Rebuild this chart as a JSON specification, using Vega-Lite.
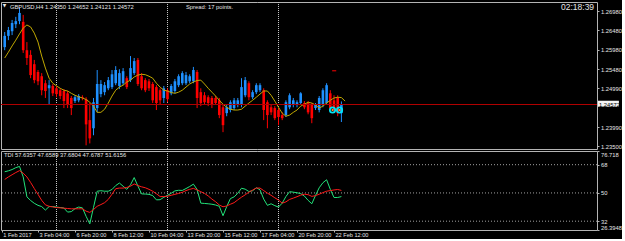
{
  "$schema": "https://vega.github.io/schema/vega-lite/v6.json",
  "background": "#000000",
  "padding": {"left": 0, "top": 1, "right": 0, "bottom": 0},
  "spacing": 2,
  "bounds": "flush",
  "config": {
    "view": {"stroke": "#B4B4B4", "strokeWidth": 1},
    "axis": {"grid": false, "domain": false, "labelFont": "Liberation Sans", "labelColor": "#E6E6E6", "tickColor": "#B4B4B4", "labelOverlap": false, "labelSeparation": 0},
    "axisY": {"labelOverlap": false},
    "axisQuantitative": {"labelOverlap": false}
  },
  "datasets": {
    "weeks": [{"i": 14, "t": "6 Feb 00:00"}, {"i": 44, "t": "13 Feb 00:00"}, {"i": 74, "t": "20 Feb 00:00"}],
    "levels": [{"lvl": 68}, {"lvl": 50}, {"lvl": 32}],
    "bars": [
      {"i":0,"o":1.2605,"h":1.2644,"l":1.2597,"c":1.2634},
      {"i":1,"o":1.2634,"h":1.2657,"l":1.2623,"c":1.2649},
      {"i":2,"o":1.2646,"h":1.2675,"l":1.2636,"c":1.2667},
      {"i":3,"o":1.2664,"h":1.2683,"l":1.2654,"c":1.2672},
      {"i":4,"o":1.2672,"h":1.2706,"l":1.2664,"c":1.2693},
      {"i":5,"o":1.2670,"h":1.2688,"l":1.2590,"c":1.2597},
      {"i":6,"o":1.2597,"h":1.2618,"l":1.2559,"c":1.2577},
      {"i":7,"o":1.2585,"h":1.2597,"l":1.2525,"c":1.2533},
      {"i":8,"o":1.2561,"h":1.2572,"l":1.2512,"c":1.2520},
      {"i":9,"o":1.2541,"h":1.2546,"l":1.2507,"c":1.2517},
      {"i":10,"o":1.2530,"h":1.2538,"l":1.2481,"c":1.2494},
      {"i":11,"o":1.2512,"h":1.2520,"l":1.2474,"c":1.2492},
      {"i":12,"o":1.2499,"h":1.2520,"l":1.2458,"c":1.2507},
      {"i":13,"o":1.2505,"h":1.2510,"l":1.2479,"c":1.2486},
      {"i":14,"o":1.2499,"h":1.2505,"l":1.2476,"c":1.2484},
      {"i":15,"o":1.2494,"h":1.2499,"l":1.2471,"c":1.2479},
      {"i":16,"o":1.2492,"h":1.2497,"l":1.2448,"c":1.2466},
      {"i":17,"o":1.2486,"h":1.2492,"l":1.2448,"c":1.2456},
      {"i":18,"o":1.2474,"h":1.2479,"l":1.2430,"c":1.2448},
      {"i":19,"o":1.2466,"h":1.2481,"l":1.2461,"c":1.2476},
      {"i":20,"o":1.2468,"h":1.2484,"l":1.2463,"c":1.2479},
      {"i":21,"o":1.2476,"h":1.2481,"l":1.2468,"c":1.2474},
      {"i":22,"o":1.2471,"h":1.2476,"l":1.2352,"c":1.2406},
      {"i":23,"o":1.2417,"h":1.2461,"l":1.2357,"c":1.2370},
      {"i":24,"o":1.2396,"h":1.2474,"l":1.2378,"c":1.2463},
      {"i":25,"o":1.2448,"h":1.2546,"l":1.2437,"c":1.2510},
      {"i":26,"o":1.2484,"h":1.2520,"l":1.2476,"c":1.2510},
      {"i":27,"o":1.2489,"h":1.2515,"l":1.2481,"c":1.2507},
      {"i":28,"o":1.2499,"h":1.2528,"l":1.2494,"c":1.2520},
      {"i":29,"o":1.2502,"h":1.2546,"l":1.2497,"c":1.2535},
      {"i":30,"o":1.2512,"h":1.2556,"l":1.2507,"c":1.2546},
      {"i":31,"o":1.2505,"h":1.2548,"l":1.2497,"c":1.2538},
      {"i":32,"o":1.2512,"h":1.2551,"l":1.2507,"c":1.2543},
      {"i":33,"o":1.2525,"h":1.2530,"l":1.2497,"c":1.2502},
      {"i":34,"o":1.2520,"h":1.2582,"l":1.2515,"c":1.2551},
      {"i":35,"o":1.2538,"h":1.2577,"l":1.2533,"c":1.2569},
      {"i":36,"o":1.2572,"h":1.2577,"l":1.2505,"c":1.2510},
      {"i":37,"o":1.2530,"h":1.2538,"l":1.2494,"c":1.2499},
      {"i":38,"o":1.2520,"h":1.2525,"l":1.2489,"c":1.2494},
      {"i":39,"o":1.2517,"h":1.2523,"l":1.2492,"c":1.2499},
      {"i":40,"o":1.2510,"h":1.2515,"l":1.2461,"c":1.2468},
      {"i":41,"o":1.2502,"h":1.2507,"l":1.2443,"c":1.2461},
      {"i":42,"o":1.2494,"h":1.2499,"l":1.2458,"c":1.2468},
      {"i":43,"o":1.2474,"h":1.2505,"l":1.2461,"c":1.2499},
      {"i":44,"o":1.2494,"h":1.2499,"l":1.2463,"c":1.2471},
      {"i":45,"o":1.2486,"h":1.2510,"l":1.2481,"c":1.2505},
      {"i":46,"o":1.2492,"h":1.2523,"l":1.2486,"c":1.2517},
      {"i":47,"o":1.2507,"h":1.2535,"l":1.2502,"c":1.2530},
      {"i":48,"o":1.2512,"h":1.2543,"l":1.2507,"c":1.2538},
      {"i":49,"o":1.2512,"h":1.2541,"l":1.2507,"c":1.2533},
      {"i":50,"o":1.2517,"h":1.2535,"l":1.2512,"c":1.2530},
      {"i":51,"o":1.2517,"h":1.2554,"l":1.2512,"c":1.2546},
      {"i":52,"o":1.2541,"h":1.2546,"l":1.2448,"c":1.2474},
      {"i":53,"o":1.2489,"h":1.2499,"l":1.2453,"c":1.2461},
      {"i":54,"o":1.2481,"h":1.2489,"l":1.2458,"c":1.2463},
      {"i":55,"o":1.2476,"h":1.2481,"l":1.2453,"c":1.2461},
      {"i":56,"o":1.2474,"h":1.2479,"l":1.2448,"c":1.2456},
      {"i":57,"o":1.2474,"h":1.2479,"l":1.2456,"c":1.2461},
      {"i":58,"o":1.2468,"h":1.2474,"l":1.2422,"c":1.2430},
      {"i":59,"o":1.2450,"h":1.2458,"l":1.2386,"c":1.2404},
      {"i":60,"o":1.2435,"h":1.2456,"l":1.2427,"c":1.2450},
      {"i":61,"o":1.2443,"h":1.2468,"l":1.2437,"c":1.2463},
      {"i":62,"o":1.2448,"h":1.2474,"l":1.2443,"c":1.2468},
      {"i":63,"o":1.2456,"h":1.2474,"l":1.2450,"c":1.2468},
      {"i":64,"o":1.2456,"h":1.2525,"l":1.2450,"c":1.2502},
      {"i":65,"o":1.2481,"h":1.2528,"l":1.2476,"c":1.2520},
      {"i":66,"o":1.2512,"h":1.2517,"l":1.2468,"c":1.2476},
      {"i":67,"o":1.2476,"h":1.2494,"l":1.2471,"c":1.2489},
      {"i":68,"o":1.2489,"h":1.2512,"l":1.2484,"c":1.2507},
      {"i":69,"o":1.2494,"h":1.2512,"l":1.2489,"c":1.2507},
      {"i":70,"o":1.2494,"h":1.2499,"l":1.2417,"c":1.2443},
      {"i":71,"o":1.2463,"h":1.2468,"l":1.2396,"c":1.2430},
      {"i":72,"o":1.2450,"h":1.2456,"l":1.2430,"c":1.2437},
      {"i":73,"o":1.2448,"h":1.2453,"l":1.2417,"c":1.2422},
      {"i":74,"o":1.2443,"h":1.2448,"l":1.2404,"c":1.2425},
      {"i":75,"o":1.2430,"h":1.2437,"l":1.2417,"c":1.2422},
      {"i":76,"o":1.2430,"h":1.2468,"l":1.2425,"c":1.2463},
      {"i":77,"o":1.2450,"h":1.2486,"l":1.2445,"c":1.2481},
      {"i":78,"o":1.2456,"h":1.2474,"l":1.2450,"c":1.2468},
      {"i":79,"o":1.2456,"h":1.2468,"l":1.2450,"c":1.2463},
      {"i":80,"o":1.2461,"h":1.2489,"l":1.2456,"c":1.2486},
      {"i":81,"o":1.2461,"h":1.2466,"l":1.2445,"c":1.2450},
      {"i":82,"o":1.2461,"h":1.2466,"l":1.2432,"c":1.2437},
      {"i":83,"o":1.2456,"h":1.2461,"l":1.2409,"c":1.2422},
      {"i":84,"o":1.2448,"h":1.2461,"l":1.2443,"c":1.2456},
      {"i":85,"o":1.2443,"h":1.2479,"l":1.2437,"c":1.2474},
      {"i":86,"o":1.2456,"h":1.2499,"l":1.2450,"c":1.2494},
      {"i":87,"o":1.2461,"h":1.2512,"l":1.2456,"c":1.2507},
      {"i":88,"o":1.2486,"h":1.2494,"l":1.2443,"c":1.2448},
      {"i":89,"o":1.2468,"h":1.2481,"l":1.2435,"c":1.2443},
      {"i":90,"o":1.2476,"h":1.2481,"l":1.2427,"c":1.2435},
      {"i":91,"o":1.2435,"h":1.24652,"l":1.24121,"c":1.24572}
    ],
    "ma": [
      {"i":0,"v":1.2577},{"i":1,"v":1.2592},{"i":2,"v":1.2608},{"i":3,"v":1.2623},{"i":4,"v":1.2639},
      {"i":5,"v":1.2654},{"i":6,"v":1.2662},{"i":7,"v":1.2657},{"i":8,"v":1.2641},{"i":9,"v":1.2618},
      {"i":10,"v":1.2582},{"i":11,"v":1.2551},{"i":12,"v":1.2525},{"i":13,"v":1.2512},{"i":14,"v":1.2505},
      {"i":15,"v":1.2499},{"i":16,"v":1.2494},{"i":17,"v":1.2492},{"i":18,"v":1.2486},{"i":19,"v":1.2481},
      {"i":20,"v":1.2477},{"i":21,"v":1.2474},{"i":22,"v":1.2470},{"i":23,"v":1.2463},{"i":24,"v":1.2453},
      {"i":25,"v":1.2437},{"i":26,"v":1.2437},{"i":27,"v":1.2445},{"i":28,"v":1.2461},{"i":29,"v":1.2479},
      {"i":30,"v":1.2494},{"i":31,"v":1.2502},{"i":32,"v":1.2507},{"i":33,"v":1.2515},{"i":34,"v":1.2520},
      {"i":35,"v":1.2528},{"i":36,"v":1.2533},{"i":37,"v":1.2535},{"i":38,"v":1.2534},{"i":39,"v":1.2530},
      {"i":40,"v":1.2525},{"i":41,"v":1.2512},{"i":42,"v":1.2502},{"i":43,"v":1.2494},{"i":44,"v":1.2492},
      {"i":45,"v":1.2488},{"i":46,"v":1.2486},{"i":47,"v":1.2489},{"i":48,"v":1.2494},{"i":49,"v":1.2502},
      {"i":50,"v":1.2510},{"i":51,"v":1.2515},{"i":52,"v":1.2519},{"i":53,"v":1.2520},{"i":54,"v":1.2510},
      {"i":55,"v":1.2499},{"i":56,"v":1.2489},{"i":57,"v":1.2479},{"i":58,"v":1.2468},{"i":59,"v":1.2458},
      {"i":60,"v":1.2450},{"i":61,"v":1.2445},{"i":62,"v":1.2443},{"i":63,"v":1.2443},{"i":64,"v":1.2445},
      {"i":65,"v":1.2453},{"i":66,"v":1.2461},{"i":67,"v":1.2468},{"i":68,"v":1.2476},{"i":69,"v":1.2484},
      {"i":70,"v":1.2492},{"i":71,"v":1.2492},{"i":72,"v":1.2481},{"i":73,"v":1.2466},{"i":74,"v":1.2450},
      {"i":75,"v":1.2435},{"i":76,"v":1.2427},{"i":77,"v":1.2430},{"i":78,"v":1.2437},{"i":79,"v":1.2443},
      {"i":80,"v":1.2453},{"i":81,"v":1.2458},{"i":82,"v":1.2463},{"i":83,"v":1.2461},{"i":84,"v":1.2456},
      {"i":85,"v":1.2448},{"i":86,"v":1.2453},{"i":87,"v":1.2461},{"i":88,"v":1.2468},{"i":89,"v":1.2474},
      {"i":90,"v":1.2476},{"i":91,"v":1.2475},{"i":92,"v":1.2466}
    ],
    "tdi": [
      {"i":0,"g":63.5,"r":58.6},{"i":1,"g":64.1,"r":60.2},{"i":2,"g":64.9,"r":61.6},{"i":3,"g":66.1,"r":63.0},{"i":4,"g":66.9,"r":64.2},
      {"i":5,"g":60.2,"r":62.6},{"i":6,"g":47.5,"r":60.2},{"i":7,"g":45.2,"r":56.7},{"i":8,"g":43.4,"r":52.8},{"i":9,"g":42.1,"r":49.1},
      {"i":10,"g":41.3,"r":45.3},{"i":11,"g":39.1,"r":42.4},{"i":12,"g":41.3,"r":41.5},{"i":13,"g":41.3,"r":41.1},{"i":14,"g":41.0,"r":40.7},
      {"i":15,"g":40.7,"r":40.5},{"i":16,"g":40.4,"r":40.3},{"i":17,"g":37.8,"r":40.1},{"i":18,"g":38.1,"r":39.9},{"i":19,"g":40.0,"r":39.9},
      {"i":20,"g":41.0,"r":39.9},{"i":21,"g":40.5,"r":39.9},{"i":22,"g":35.1,"r":38.4},{"i":23,"g":30.3,"r":37.6},{"i":24,"g":40.8,"r":39.4},
      {"i":25,"g":51.1,"r":41.5},{"i":26,"g":51.4,"r":42.6},{"i":27,"g":51.1,"r":43.8},{"i":28,"g":51.1,"r":45.9},{"i":29,"g":52.2,"r":49.2},
      {"i":30,"g":54.7,"r":52.7},{"i":31,"g":56.3,"r":53.1},{"i":32,"g":54.3,"r":53.1},{"i":33,"g":52.3,"r":53.5},{"i":34,"g":55.2,"r":54.3},
      {"i":35,"g":59.8,"r":55.7},{"i":36,"g":54.4,"r":54.7},{"i":37,"g":49.4,"r":53.9},{"i":38,"g":49.3,"r":53.3},{"i":39,"g":49.1,"r":52.3},
      {"i":40,"g":48.3,"r":51.1},{"i":41,"g":45.6,"r":49.5},{"i":42,"g":45.7,"r":47.7},{"i":43,"g":47.2,"r":47.7},{"i":44,"g":48.5,"r":47.9},
      {"i":45,"g":49.8,"r":48.5},{"i":46,"g":51.3,"r":49.1},{"i":47,"g":51.7,"r":49.7},{"i":48,"g":51.6,"r":50.4},{"i":49,"g":52.8,"r":51.5},
      {"i":50,"g":54.1,"r":52.3},{"i":51,"g":55.6,"r":52.9},{"i":52,"g":52.2,"r":51.9},{"i":53,"g":43.5,"r":50.8},{"i":54,"g":43.3,"r":49.7},
      {"i":55,"g":43.1,"r":48.1},{"i":56,"g":42.8,"r":46.1},{"i":57,"g":42.3,"r":44.4},{"i":58,"g":41.5,"r":42.3},{"i":59,"g":35.5,"r":41.2},
      {"i":60,"g":41.3,"r":41.7},{"i":61,"g":46.4,"r":42.8},{"i":62,"g":47.5,"r":43.8},{"i":63,"g":49.8,"r":45.6},{"i":64,"g":53.0,"r":47.3},
      {"i":65,"g":52.4,"r":48.8},{"i":66,"g":50.9,"r":50.5},{"i":67,"g":51.4,"r":51.8},{"i":68,"g":53.3,"r":53.1},{"i":69,"g":52.0,"r":53.1},
      {"i":70,"g":46.1,"r":51.5},{"i":71,"g":42.1,"r":49.9},{"i":72,"g":43.1,"r":48.5},{"i":73,"g":41.9,"r":46.9},{"i":74,"g":41.0,"r":45.5},
      {"i":75,"g":43.5,"r":43.5},{"i":76,"g":47.7,"r":44.3},{"i":77,"g":50.8,"r":45.9},{"i":78,"g":50.5,"r":46.7},{"i":79,"g":50.1,"r":47.6},
      {"i":80,"g":49.6,"r":48.6},{"i":81,"g":48.0,"r":49.2},{"i":82,"g":45.3,"r":48.9},{"i":83,"g":43.1,"r":47.8},{"i":84,"g":48.4,"r":48.3},
      {"i":85,"g":53.3,"r":49.2},{"i":86,"g":56.5,"r":50.2},{"i":87,"g":58.4,"r":51.1},{"i":88,"g":52.3,"r":51.5},{"i":89,"g":47.1,"r":51.9},
      {"i":90,"g":47.1,"r":52.2},{"i":91,"g":47.6787,"r":51.6156}
    ],
    "trades": [{"i": 88.6, "p": 1.2443}, {"i": 90.5, "p": 1.2443}],
    "stops": [{"i": 88.5, "i2": 89.6, "p": 1.2544}]
  },
  "vconcat": [
    {
      "width": 596,
      "height": 147,
      "encoding": {
        "y": {"type": "quantitative", "scale": {"domain": [1.23426, 1.27212], "nice": false, "zero": false, "padding": 0},
              "axis": {"orient": "right", "title": null, "values": [1.2698, 1.2648, 1.2598, 1.2548, 1.2499, 1.2399, 1.235], "format": ".5f", "labelFontSize": 5.8, "tickSize": 2, "labelPadding": 1.5, "labelOverlap": false, "labelSeparation": 0}}
      },
      "layer": [
        {
          "data": {"name": "weeks"},
          "mark": {"type": "rule", "color": "#C8C8C8", "strokeDash": [1, 1], "strokeWidth": 1},
          "encoding": {
            "x": {"field": "i", "type": "quantitative", "scale": {"domain": [-1, 160.08], "nice": false, "zero": false, "padding": 0}, "axis": null},
            "y": null
          }
        },
        {
          "data": {"name": "bars"},
          "mark": {"type": "rule", "strokeWidth": 1},
          "encoding": {
            "x": {"field": "i", "type": "quantitative", "axis": null},
            "y": {"field": "l"},
            "y2": {"field": "h"},
            "color": {"condition": {"test": "datum.c >= datum.o", "value": "#1E90FF"}, "value": "#FF0000"}
          }
        },
        {
          "data": {"name": "bars"},
          "mark": {"type": "bar", "width": 2.6},
          "encoding": {
            "x": {"field": "i", "type": "quantitative", "axis": null},
            "y": {"field": "o"},
            "y2": {"field": "c"},
            "color": {"condition": {"test": "datum.c >= datum.o", "value": "#1E90FF"}, "value": "#FF0000"}
          }
        },
        {
          "data": {"name": "ma"},
          "mark": {"type": "line", "color": "#C0A800", "strokeWidth": 1},
          "encoding": {
            "x": {"field": "i", "type": "quantitative", "axis": null},
            "y": {"field": "v"}
          }
        },
        {
          "data": {"values": [{"p": 1.24572}]},
          "mark": {"type": "rule", "color": "#B00000", "strokeWidth": 1},
          "encoding": {"y": {"field": "p"}}
        },
        {
          "data": {"name": "trades"},
          "mark": {"type": "point", "filled": false, "stroke": "#00E5F5", "strokeWidth": 1.8, "size": 28, "opacity": 1},
          "encoding": {
            "x": {"field": "i", "type": "quantitative", "axis": null},
            "y": {"field": "p"}
          }
        },
        {
          "data": {"name": "trades"},
          "mark": {"type": "point", "filled": true, "color": "#F0A040", "size": 5, "opacity": 1},
          "encoding": {
            "x": {"field": "i", "type": "quantitative", "axis": null},
            "y": {"field": "p"}
          }
        },
        {
          "data": {"name": "stops"},
          "mark": {"type": "rule", "color": "#FF0000", "strokeWidth": 1},
          "encoding": {
            "x": {"field": "i", "type": "quantitative", "axis": null},
            "x2": {"field": "i2"},
            "y": {"field": "p"}
          }
        },
        {
          "data": {"values": [{"i": -0.05, "p": 1.27108, "s": "▼"}]},
          "mark": {"type": "text", "align": "center", "baseline": "middle", "font": "DejaVu Sans", "fontSize": 4.5, "color": "#E6E6E6"},
          "encoding": {"x": {"field": "i", "type": "quantitative", "axis": null}, "y": {"field": "p"}, "text": {"field": "s"}}
        },
        {
          "data": {"values": [{"i": 1.43, "p": 1.27096, "s": "GBPUSD,H4  1.24350 1.24652 1.24121 1.24572"},
                              {"i": 49.0, "p": 1.27078, "s": "Spread: 17 points."}]},
          "mark": {"type": "text", "align": "left", "baseline": "middle", "font": "Liberation Sans", "fontSize": 5.8, "color": "#E6E6E6"},
          "encoding": {"x": {"field": "i", "type": "quantitative", "axis": null}, "y": {"field": "p"}, "text": {"field": "s"}}
        },
        {
          "data": {"values": [{"i": 150.35, "p": 1.27091, "s": "02:18:39"}]},
          "mark": {"type": "text", "align": "left", "baseline": "middle", "font": "Liberation Sans", "fontSize": 8.5, "color": "#E6E6E6"},
          "encoding": {"x": {"field": "i", "type": "quantitative", "axis": null}, "y": {"field": "p"}, "text": {"field": "s"}}
        },
        {
          "data": {"values": [{"i": 160.35, "i2": 166.0, "p": 1.24669, "p2": 1.24514}]},
          "mark": {"type": "rect", "color": "#F2F2F2", "clip": false},
          "encoding": {
            "x": {"field": "i", "type": "quantitative", "axis": null}, "x2": {"field": "i2"},
            "y": {"field": "p"}, "y2": {"field": "p2"}
          }
        },
        {
          "data": {"values": [{"i": 160.6, "p": 1.24572, "s": "1.24572"}]},
          "mark": {"type": "text", "align": "left", "baseline": "middle", "font": "Liberation Sans", "fontSize": 5.8, "color": "#000000", "clip": false},
          "encoding": {"x": {"field": "i", "type": "quantitative", "axis": null}, "y": {"field": "p"}, "text": {"field": "s"}}
        }
      ]
    },
    {
      "width": 596,
      "height": 79,
      "encoding": {
        "x": {"type": "quantitative", "scale": {"domain": [-1, 160.08], "nice": false, "zero": false, "padding": 0},
              "axis": {"title": null, "values": [-0.8, 9, 19, 29, 39, 49, 59, 69, 79, 89],
                       "labelExpr": "datum.value < 0 ? '1 Feb 2017' : ['3 Feb 04:00','6 Feb 20:00','8 Feb 12:00','10 Feb 04:00','13 Feb 20:00','15 Feb 12:00','17 Feb 04:00','20 Feb 20:00','22 Feb 12:00'][round((datum.value - 9) / 10)]",
                       "labelAlign": "left", "labelBaseline": "top", "labelFontSize": 5.6, "labelFlush": false, "labelOverlap": false, "labelOffset": 1, "labelPadding": 0, "tickSize": 2}},
        "y": {"type": "quantitative", "scale": {"domain": [26.3948, 76.718], "nice": false, "zero": false, "padding": 0},
              "axis": {"orient": "right", "title": null, "values": [76.718, 68, 50, 32, 26.3948], "labelExpr": "datum.value + ''", "labelFontSize": 5.8, "labelFlush": false, "labelOverlap": false, "labelSeparation": 0, "labelBound": false,
                       "labelBaseline": {"condition": [{"test": "datum.value > 76", "value": "top"}, {"test": "datum.value < 27", "value": "bottom"}], "value": "middle"},
                       "tickSize": 2, "labelPadding": 1.5}}
      },
      "layer": [
        {
          "data": {"name": "weeks"},
          "mark": {"type": "rule", "color": "#C8C8C8", "strokeDash": [1, 1], "strokeWidth": 1},
          "encoding": {"x": {"field": "i"}, "y": null}
        },
        {
          "data": {"name": "levels"},
          "mark": {"type": "rule", "color": "#A0A0A0", "strokeDash": [1, 2], "strokeWidth": 1},
          "encoding": {"x": null, "y": {"field": "lvl"}}
        },
        {
          "data": {"name": "tdi"},
          "mark": {"type": "line", "color": "#22E37A", "strokeWidth": 1},
          "encoding": {"x": {"field": "i"}, "y": {"field": "g"}}
        },
        {
          "data": {"name": "tdi"},
          "mark": {"type": "line", "color": "#FF1A1A", "strokeWidth": 1},
          "encoding": {"x": {"field": "i"}, "y": {"field": "r"}}
        },
        {
          "data": {"values": [{"i": -0.2, "v": 74.1, "s": "TDI 57.6357 47.6589 37.6804 47.6787 51.6156"}]},
          "mark": {"type": "text", "align": "left", "baseline": "middle", "font": "Liberation Sans", "fontSize": 5.8, "color": "#E6E6E6"},
          "encoding": {"x": {"field": "i"}, "y": {"field": "v"}, "text": {"field": "s"}}
        }
      ]
    }
  ]
}
